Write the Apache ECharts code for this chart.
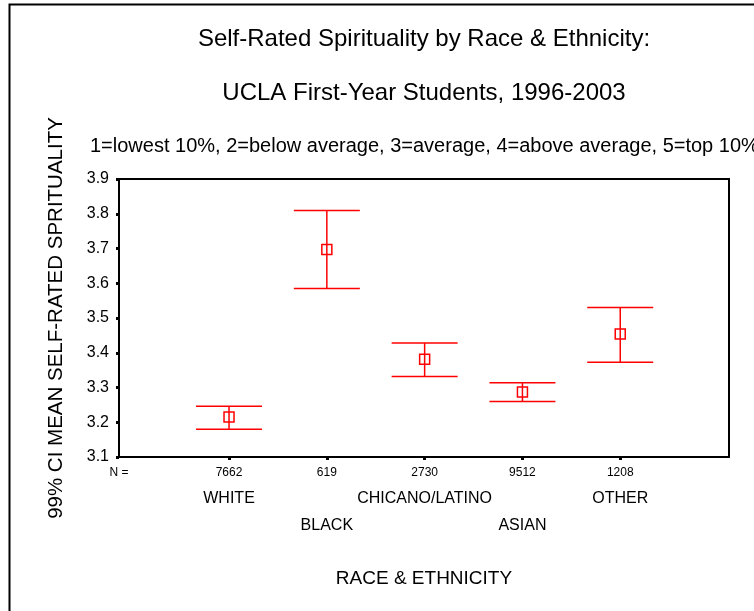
<!DOCTYPE html>
<html lang="en">
<head>
    <meta charset="UTF-8">
    <title>Self-Rated Spirituality by Race &amp; Ethnicity</title>
    <script src="https://cdn.jsdelivr.net/npm/echarts@6/dist/echarts.min.js"></script>
    <style>
        html, body { margin: 0; padding: 0; background: #fff; }
        #chart { width: 754px; height: 611px; }
    </style>
</head>
<body>
<div id="chart"></div>
<script>
    // data
    var groups = ['WHITE', 'BLACK', 'CHICANO/LATINO', 'ASIAN', 'OTHER'];
    var nCounts = ['7662', '619', '2730', '9512', '1208'];
    var means = [3.215, 3.697, 3.381, 3.287, 3.454];
    var upper = [3.246, 3.809, 3.428, 3.314, 3.530];
    var lower = [3.180, 3.585, 3.332, 3.260, 3.373];
    var oddGroups = [1, 3, 5];   // first label row
    var evenGroups = [2, 4];     // second label row

    var font = "'Liberation Sans', Arial, sans-serif";
    var xMin = -0.125, xMax = 6.112;

    var errData = groups.map(function (g, i) {
        return [i + 1, lower[i], upper[i], means[i]];
    });

    function renderBar(params, api) {
        var x = api.value(0);
        var lo = api.coord([x, api.value(1)]);
        var hi = api.coord([x, api.value(2)]);
        var mid = api.coord([x, api.value(3)]);
        var hw = 33;
        var st = { stroke: '#ff0000', lineWidth: 1.5, fill: null };
        return {
            type: 'group',
            children: [
                { type: 'line', shape: { x1: hi[0], y1: hi[1], x2: lo[0], y2: lo[1] }, style: st },
                { type: 'line', shape: { x1: hi[0] - hw, y1: hi[1], x2: hi[0] + hw, y2: hi[1] }, style: st },
                { type: 'line', shape: { x1: lo[0] - hw, y1: lo[1], x2: lo[0] + hw, y2: lo[1] }, style: st },
                { type: 'rect', shape: { x: mid[0] - 5, y: mid[1] - 5, width: 10, height: 10 }, style: st }
            ]
        };
    }

    function groupAxis(vals, margin) {
        return {
            type: 'value', position: 'bottom', min: xMin, max: xMax,
            axisLine: { show: false }, axisTick: { show: false }, splitLine: { show: false },
            axisLabel: {
                customValues: vals, margin: margin, color: '#000', fontSize: 16, fontFamily: font,
                formatter: function (v) { return groups[Math.round(v) - 1]; }
            }
        };
    }

    var chart = echarts.init(document.getElementById('chart'));
    chart.setOption({
        backgroundColor: '#fff',
        animation: false,
        graphic: [
            { type: 'rect', shape: { x: 9.5, y: 4.5, width: 800, height: 700 },
              style: { fill: null, stroke: '#000', lineWidth: 2 } },
            { type: 'text', x: 424, y: 39, style: { text: 'Self-Rated Spirituality by Race & Ethnicity:',
              fill: '#000', font: '24px ' + font, textAlign: 'center', textVerticalAlign: 'middle' } },
            { type: 'text', x: 424, y: 93, style: { text: 'UCLA First-Year Students, 1996-2003',
              fill: '#000', font: '24px ' + font, textAlign: 'center', textVerticalAlign: 'middle' } },
            { type: 'text', x: 90, y: 146, style: { text: '1=lowest 10%, 2=below average, 3=average, 4=above average, 5=top 10%',
              fill: '#000', font: '20px ' + font, textAlign: 'left', textVerticalAlign: 'middle' } }
        ],
        grid: {
            left: 119, right: 25, top: 179, bottom: 154,
            show: true, borderColor: '#000', borderWidth: 2, backgroundColor: '#fff'
        },
        xAxis: [
            {
                type: 'value', min: xMin, max: xMax,
                name: 'RACE & ETHNICITY', nameLocation: 'middle', nameGap: 112,
                nameTextStyle: { color: '#000', fontSize: 19, fontFamily: font },
                axisLine: { show: true, onZero: false, lineStyle: { color: '#000', width: 2 } },
                axisTick: { show: true, customValues: [1, 2, 3, 4, 5], length: 3, lineStyle: { color: '#000', width: 3 } },
                splitLine: { show: false },
                axisLabel: {
                    customValues: [xMin, 1, 2, 3, 4, 5], margin: 10, color: '#000', fontSize: 12, fontFamily: font,
                    formatter: function (v) { return v < 0.5 ? 'N =' : nCounts[Math.round(v) - 1]; }
                }
            },
            groupAxis(oddGroups, 34),
            groupAxis(evenGroups, 61)
        ],
        yAxis: {
            type: 'value', min: 3.1, max: 3.9, interval: 0.1,
            name: '99% CI MEAN SELF-RATED SPRITUALITY', nameLocation: 'middle', nameRotate: 90, nameGap: 52,
            nameTextStyle: { color: '#000', fontSize: 20.5, fontFamily: font },
            axisLine: { show: true, onZero: false, lineStyle: { color: '#000', width: 2 } },
            axisTick: { show: true, length: 3, lineStyle: { color: '#000', width: 3 } },
            splitLine: { show: false },
            axisLabel: {
                margin: 10, color: '#000', fontSize: 16, fontFamily: font,
                formatter: function (v) { return v.toFixed(1); }
            }
        },
        series: [{
            type: 'custom',
            renderItem: renderBar,
            encode: { x: 0, y: [1, 2, 3] },
            data: errData,
            z: 10
        }]
    });
</script>
</body>
</html>
